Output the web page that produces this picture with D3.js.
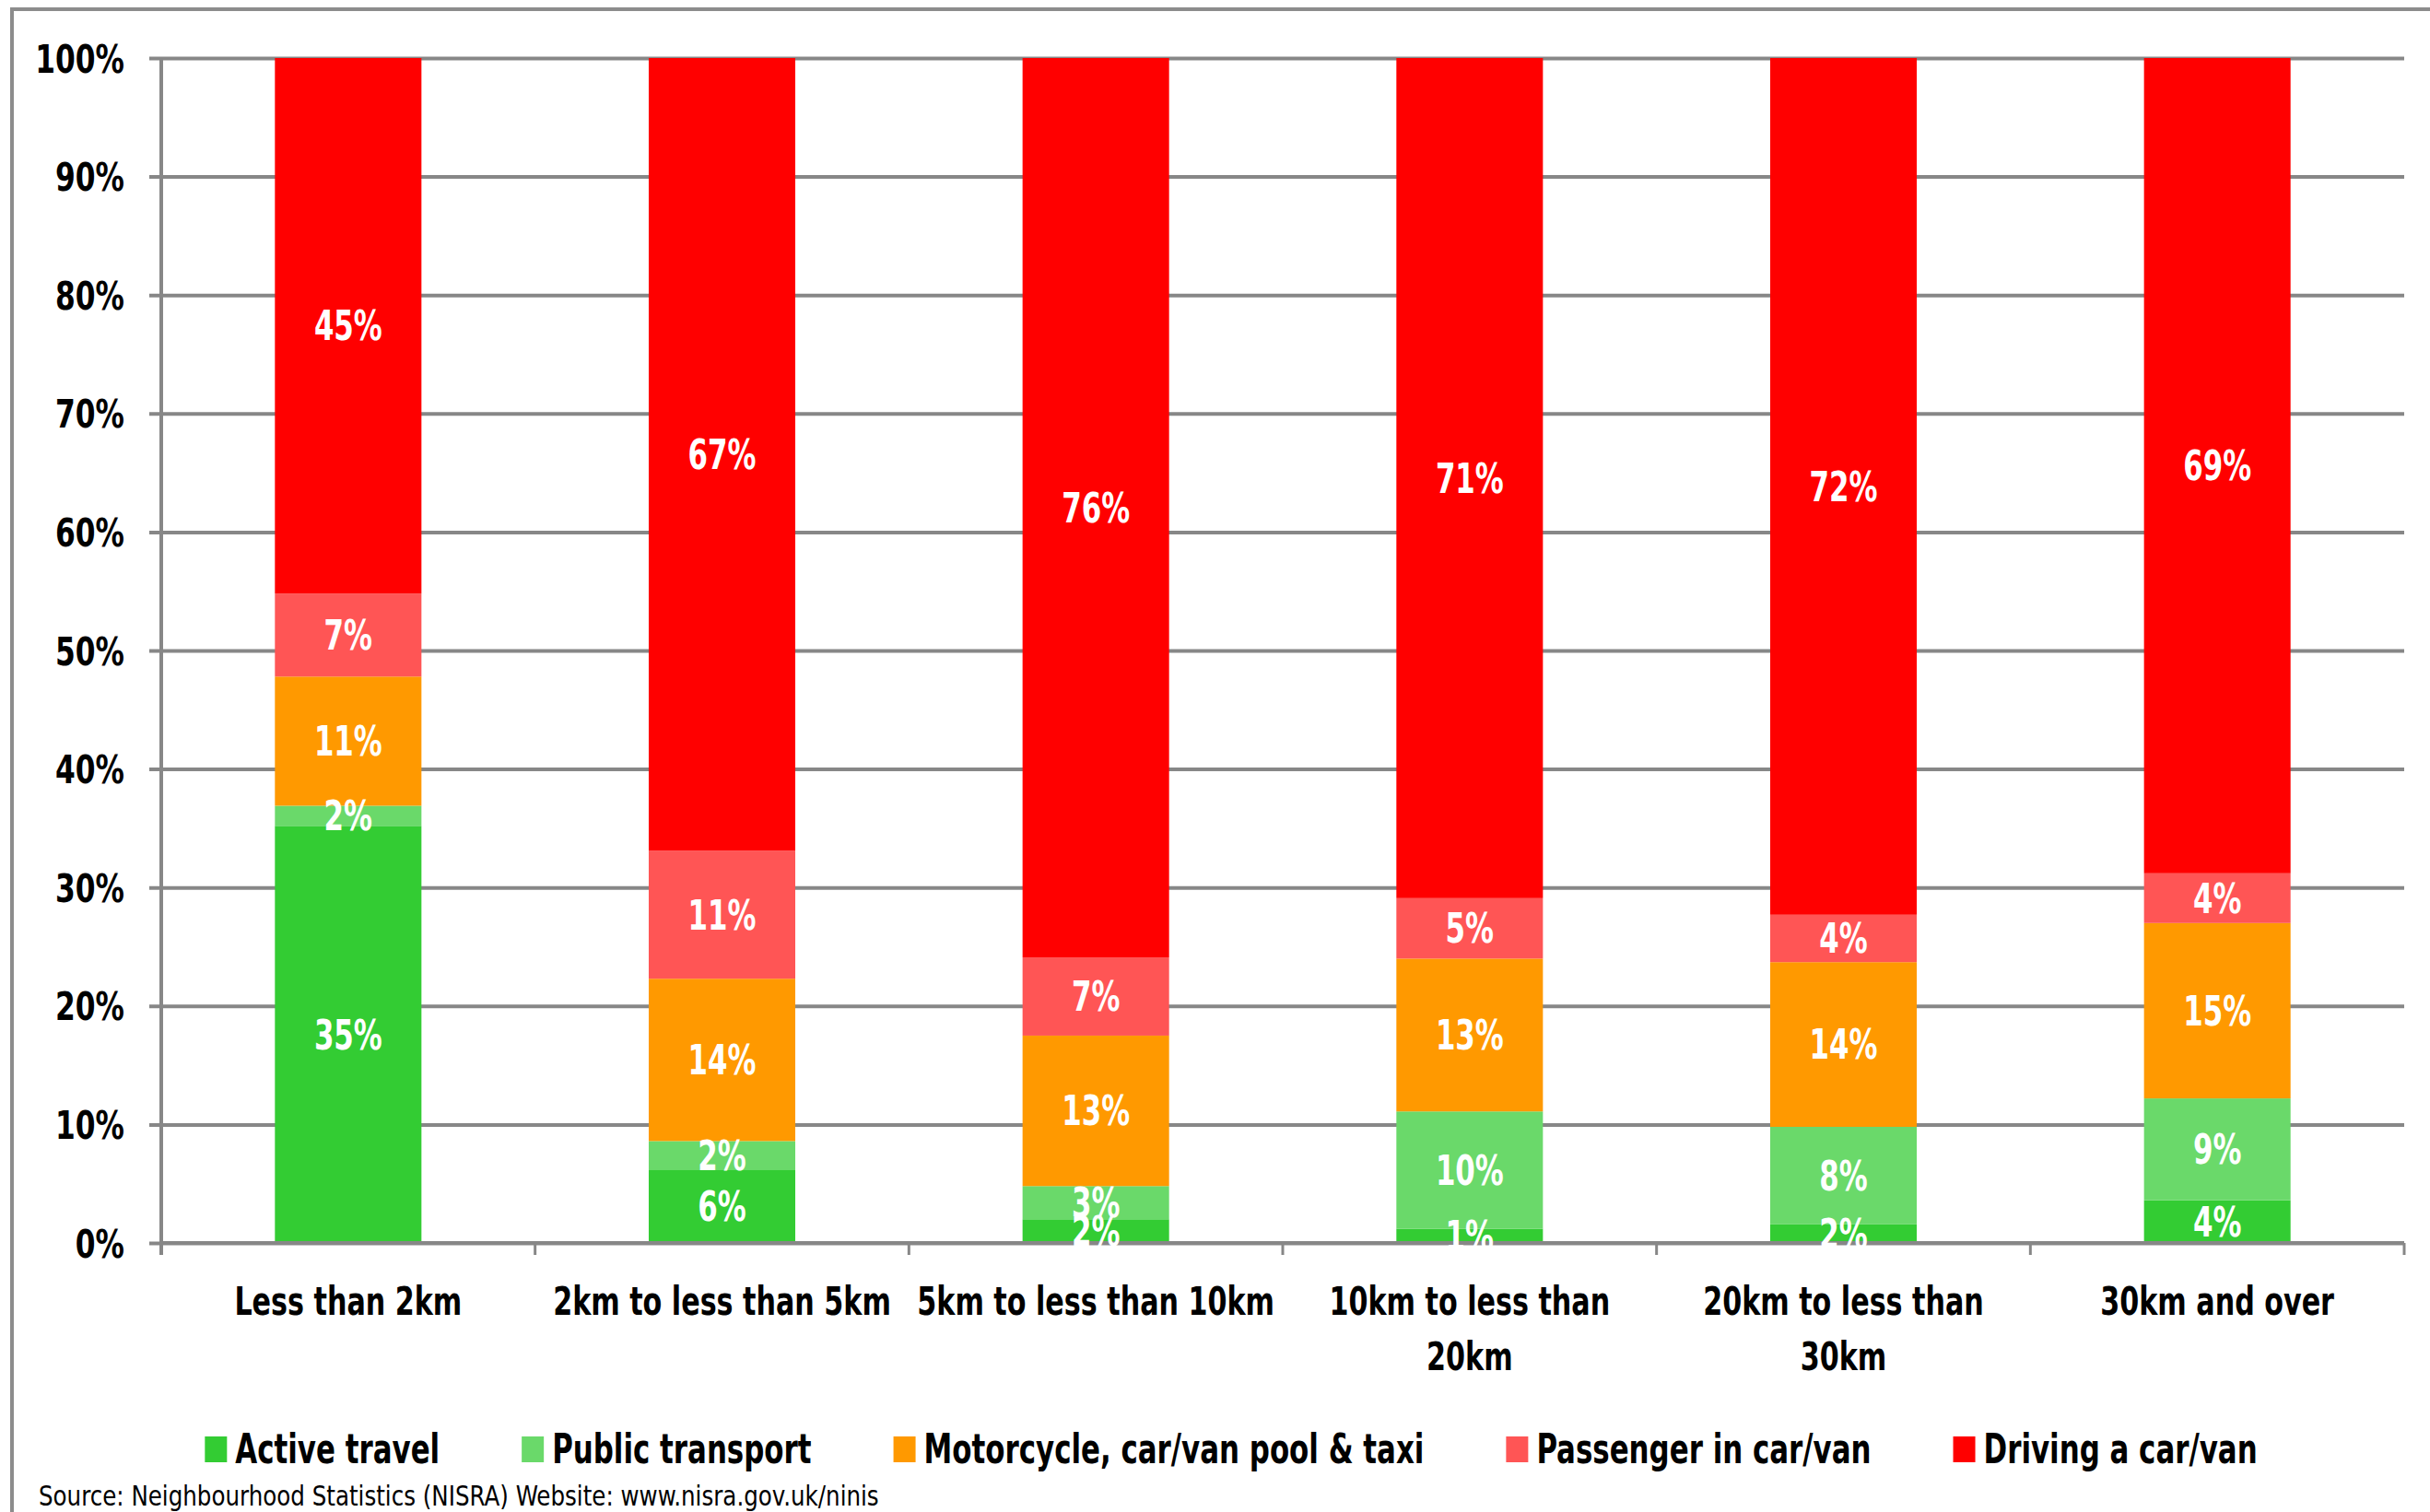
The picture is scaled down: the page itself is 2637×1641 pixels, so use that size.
<!DOCTYPE html>
<html>
<head>
<meta charset="utf-8">
<script src="https://cdn.jsdelivr.net/npm/d3@7"></script>
<style>
  html, body { margin: 0; padding: 0; background: #ffffff; }
  svg { display: block; }
  text { font-family: "Liberation Sans Narrow", "DejaVu Sans Condensed", "Arial Narrow", sans-serif; }
</style>
</head>
<body>
<svg id="chart" width="2637" height="1641"></svg>
<script>
// ---- data ----
const categories = ["Less than 2km", "2km to less than 5km", "5km to less than 10km",
                    "10km to less than 20km", "20km to less than 30km", "30km and over"];
const seriesNames = ["Active travel", "Public transport", "Motorcycle, car/van pool & taxi",
                     "Passenger in car/van", "Driving a car/van"];
const activeTravel    = [35.2, 6.2, 2.0, 1.2, 1.6, 3.6];
const publicTransport = [1.7, 2.4, 2.8, 9.9, 8.2, 8.6];
const motorcycleTaxi  = [10.9, 13.7, 12.7, 12.9, 13.9, 14.8];
const passengerCarVan = [7.0, 10.8, 6.6, 5.1, 4.0, 4.2];
const drivingCarVan   = [45.2, 66.9, 75.9, 70.9, 72.3, 68.8];
const yTickValues = [0, 10, 20, 30, 40, 50, 60, 70, 80, 90, 100];
const sourceNote = "Source: Neighbourhood Statistics (NISRA) Website: www.nisra.gov.uk/ninis";

const seriesColors = ["#33CC33", "#6AD96A", "#FF9900", "#FF5555", "#FF0000"];
const seriesValues = [activeTravel, publicTransport, motorcycleTaxi, passengerCarVan, drivingCarVan];

// table for d3.stack
const table = categories.map((c, i) => {
  const row = { category: c };
  seriesNames.forEach((s, j) => { row[s] = seriesValues[j][i]; });
  return row;
});

// horizontally condense text (reference uses a narrow face); returns last width
function squeeze(sel, f) {
  let w = 0;
  sel.each(function () {
    const L = this.getComputedTextLength();
    w = L * f;
    d3.select(this).attr("textLength", w).attr("lengthAdjust", "spacingAndGlyphs");
  });
  return w;
}
const NARROW = 0.78;

// ---- layout ----
const svg = d3.select("#chart");
const W = 2637, H = 1641;
const plot = { left: 175, right: 2609, top: 63, bottom: 1349 };
const gridColor = "#878787";

svg.append("rect").attr("width", W).attr("height", H).attr("fill", "#ffffff");
// outer frame
svg.append("rect")
  .attr("x", 13).attr("y", 10).attr("width", W + 20).attr("height", H + 20)
  .attr("fill", "none").attr("stroke", "#8c8c8c").attr("stroke-width", 4);

const x = d3.scaleBand().domain(categories).range([plot.left, plot.right]).paddingInner(0.608).paddingOuter(0.304);
const xOuter = d3.scaleBand().domain(categories).range([plot.left, plot.right]).padding(0);
const y = d3.scaleLinear().domain([0, 100]).range([plot.bottom, plot.top]);

// gridlines + y axis
const yAxis = d3.axisLeft(y).tickValues(yTickValues).tickFormat(d => d + "%")
  .tickSize(-(plot.right - plot.left)).tickPadding(28);
const gy = svg.append("g").attr("transform", `translate(${plot.left},0)`).call(yAxis);
gy.select(".domain").remove();
gy.selectAll(".tick line")
  .attr("x1", -13).attr("x2", plot.right - plot.left)
  .attr("stroke", gridColor).attr("stroke-width", 4);
gy.selectAll(".tick text")
  .attr("font-size", 43).attr("font-weight", "bold").attr("fill", "#000")
  .attr("x", -40).attr("dy", "0.35em");
squeeze(gy.selectAll(".tick text"), 0.81);
// y axis line
svg.append("line").attr("x1", plot.left).attr("x2", plot.left)
  .attr("y1", plot.top).attr("y2", plot.bottom + 13)
  .attr("stroke", gridColor).attr("stroke-width", 4);

// stacked bars
const stack = d3.stack().keys(seriesNames);
const stacked = stack(table);
const layers = svg.append("g").selectAll("g").data(stacked).join("g")
  .attr("fill", (d, i) => seriesColors[i]);
layers.selectAll("rect").data(d => d).join("rect")
  .attr("x", d => x(d.data.category))
  .attr("width", x.bandwidth())
  .attr("y", d => y(d[1]))
  .attr("height", d => y(d[0]) - y(d[1]));

// x axis
const xAxis = d3.axisBottom(xOuter).tickSize(0).tickFormat("");
const gx = svg.append("g").attr("transform", `translate(0,${plot.bottom})`).call(xAxis);
gx.select(".domain").attr("stroke", gridColor).attr("stroke-width", 4)
  .attr("d", `M${plot.left},0H${plot.right}`);
// tick marks at band boundaries
const boundaries = categories.map(c => xOuter(c)).concat([plot.right]);
svg.append("g").selectAll("line").data(boundaries).join("line")
  .attr("x1", d => d).attr("x2", d => d)
  .attr("y1", plot.bottom).attr("y2", plot.bottom + 13)
  .attr("stroke", gridColor).attr("stroke-width", 3);

// data labels
const labelG = svg.append("g");
stacked.forEach((layer) => {
  layer.forEach(d => {
    const v = d[1] - d[0];
    labelG.append("text")
      .attr("x", x(d.data.category) + x.bandwidth() / 2)
      .attr("y", y((d[0] + d[1]) / 2))
      .attr("dy", "0.36em")
      .attr("text-anchor", "middle")
      .attr("font-size", 44).attr("font-weight", "bold")
      .attr("fill", "#ffffff")
      .text(Math.round(v) + "%");
  });
});
squeeze(labelG.selectAll("text"), 0.78);

// category labels (wrapped to band width)
const catG = svg.append("g");
categories.forEach(c => {
  const cx = xOuter(c) + xOuter.bandwidth() / 2;
  const mk = (txt, yy) => catG.append("text").attr("text-anchor", "middle")
    .attr("font-size", 43).attr("font-weight", "bold").attr("fill", "#000")
    .attr("x", cx).attr("y", yy).text(txt);
  const probe = mk("", -100);
  const words = c.split(" ");
  let lines = [], cur = [];
  words.forEach(w => {
    const test = cur.concat([w]).join(" ");
    probe.text(test);
    if (probe.node().getComputedTextLength() * NARROW > 400 && cur.length) {
      lines.push(cur.join(" ")); cur = [w];
    } else cur.push(w);
  });
  lines.push(cur.join(" "));
  probe.remove();
  lines.forEach((ln, k) => squeeze(mk(ln, 1427 + k * 60), NARROW));
});

// legend
const legend = svg.append("g");
let lx = 0;
const legendGap = 89;
seriesNames.forEach((s, i) => {
  const g = legend.append("g").attr("transform", `translate(${lx},0)`);
  g.append("rect").attr("x", 0).attr("y", 1559).attr("width", 24).attr("height", 28)
    .attr("fill", seriesColors[i]);
  const tx = g.append("text").attr("x", 33).attr("y", 1588)
    .attr("font-size", 44).attr("font-weight", "bold").attr("fill", "#000").text(s);
  const tw = squeeze(tx, 0.78);
  lx += 33 + tw + legendGap;
});
const totalW = lx - legendGap;
legend.attr("transform", `translate(${1336 - totalW / 2},0)`);

// source note
const src = svg.append("text").attr("x", 42).attr("y", 1634)
  .attr("font-size", 30).attr("fill", "#000").text(sourceNote);
squeeze(src, 0.91);
</script>
</body>
</html>
